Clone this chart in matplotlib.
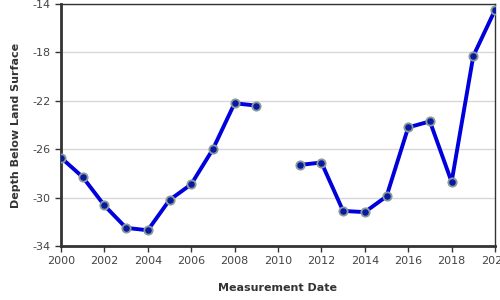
import matplotlib
matplotlib.use("Agg")
import matplotlib.pyplot as plt
import numpy as np

years = [2000, 2001, 2002, 2003, 2004, 2005, 2006, 2007, 2008, 2009, 2010,
         2011, 2012, 2013, 2014, 2015, 2016, 2017, 2018, 2019, 2020]
depth = [-26.7, -28.3, -30.65, -32.5, -32.7, -30.2, -28.9, -26.0, -22.2, -22.4, np.nan,
         -27.3, -27.1, -31.1, -31.2, -29.9, -24.2, -23.7, -28.7, -18.3, -14.5]
xticks = [2000, 2002, 2004, 2006, 2008, 2010, 2012, 2014, 2016, 2018, 2020]
yticks = [-34, -30, -26, -22, -18, -14]

fig = plt.figure(figsize=(5, 3), dpi=100)
ax = fig.add_axes([61/500, 1-246/300, (495-61)/500, (246-4)/300])
ax.plot(years, depth, color="#0000dd", lw=2.8, zorder=3)
ax.plot(years, depth, ls="none", marker="o", ms=6, mfc="#0a1aa0", mec="#8a9a9a", mew=1.3, zorder=4)
ax.set_xlim(2000, 2020)
ax.set_ylim(-34, -14)
ax.set_xticks(xticks)
ax.set_xticklabels([str(x) for x in xticks])
ax.set_yticks(yticks)
ax.set_yticklabels([str(y) for y in yticks])
ax.grid(axis="y", color="#d8d8d8", lw=1)
ax.set_axisbelow(True)
for s in ["left", "bottom"]:
    ax.spines[s].set_linewidth(2)
    ax.spines[s].set_color("#333333")
for s in ["top", "right"]:
    ax.spines[s].set_linewidth(1)
    ax.spines[s].set_color("#333333")
ax.tick_params(axis="both", labelsize=8, colors="#333333", length=4, width=1)
ax.tick_params(axis="both", labelcolor="#444444")
ax.set_xlabel("Measurement Date", fontsize=8, fontweight="bold", color="#333333", labelpad=12)
ax.set_ylabel("Depth Below Land Surface", fontsize=8, fontweight="bold", color="#333333", labelpad=8)
fig.savefig("out.png", dpi=100)
